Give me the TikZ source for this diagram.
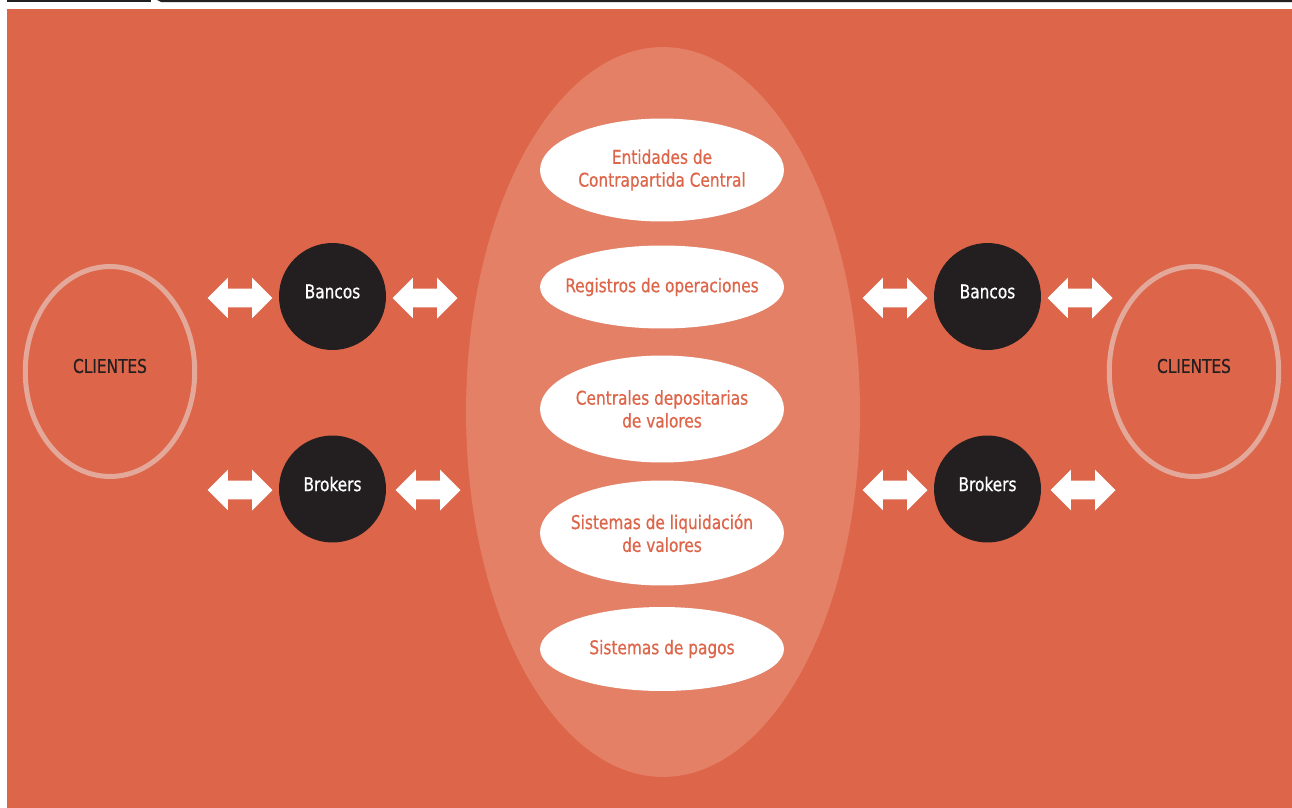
\documentclass[tikz,border=0pt]{standalone}
\usepackage{fontspec}
\setmainfont{DejaVu Sans Condensed}[FakeStretch=0.9,FakeBold=0.6]
\usetikzlibrary{shapes.geometric,shapes.arrows}
\definecolor{fondo}{HTML}{DD6549}
\definecolor{centro}{HTML}{E38066}
\definecolor{aro}{HTML}{E3A899}
\definecolor{negro}{HTML}{231F20}
\begin{document}
\begin{tikzpicture}[x=0.02cm, y=-0.02cm,
  font=\fontsize{10.8}{13}\selectfont,
  ent/.style={ellipse, fill=white, inner sep=0pt, minimum width=4.88cm, label={[text=fondo, align=center]center:#1}},
  agente/.style={circle, fill=negro, inner sep=0pt, minimum size=2.14cm, label={[text=white, yshift=0.1cm]center:#1}},
  cliente/.style={ellipse, draw=aro, line width=0.1cm, inner sep=0pt, minimum width=3.39cm, minimum height=4.2cm, label={[text=negro, yshift=0.11cm]center:CLIENTES}},
  flecha/.style={double arrow, fill=white, inner xsep=0pt, inner ysep=0.18cm, double arrow head extend=0.22cm, minimum height=1.3cm}]
\useasboundingbox (0,0) rectangle (1292,808);
\fill[fondo] (7,9) rectangle (1292,808);
\fill[negro] (7,0) rectangle (151,2);
\fill[negro] (157,0) -- (1292,0) -- (1292,2) -- (161,2) -- cycle;
\node[ellipse, fill=centro, inner sep=0pt, minimum width=7.88cm, minimum height=14.6cm] (zona) at (663,412){};
\node[ent={Entidades de\\Contrapartida Central}, minimum height=2.06cm] (ecc) at (662,170){};
\node[ent={Registros de operaciones}, minimum height=1.66cm] (reg) at (662,287){};
\node[ent={Centrales depositarias\\de valores}, minimum height=2.14cm] (dcv) at (662,409){};
\node[ent={Sistemas de liquidación\\de valores}, minimum height=2.1cm] (sl) at (662,533){};
\node[ent={Sistemas de pagos}, minimum height=1.68cm] (sp) at (662,649){};
\node[cliente] (cli1) at (110,371.5){};
\node[cliente] (cli2) at (1194,371.5){};
\node[agente=Bancos] (ban1) at (332.5,296.5){};
\node[agente=Brokers] (bro1) at (332.5,489){};
\node[agente=Bancos] (ban2) at (987.5,296.5){};
\node[agente=Brokers] (bro2) at (987.5,489){};
\node[flecha] (f1) at (240,298){};
\node[flecha] (f2) at (425,298){};
\node[flecha] (f3) at (240,490){};
\node[flecha] (f4) at (428,490){};
\node[flecha] (f5) at (895,298){};
\node[flecha] (f6) at (1080,298){};
\node[flecha] (f7) at (895,490){};
\node[flecha] (f8) at (1083,490){};
\end{tikzpicture}
\end{document}
